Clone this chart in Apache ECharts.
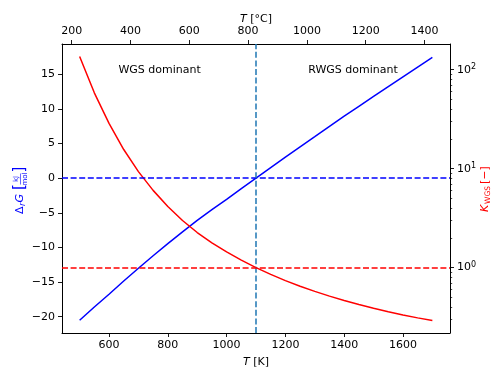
<!DOCTYPE html>
<html>
<head>
<meta charset="utf-8">
<script src="https://cdn.jsdelivr.net/npm/echarts@6/dist/echarts.min.js"></script>
<style>
  html, body { margin: 0; padding: 0; background: #fff; }
  #main { width: 500px; height: 376px; }
</style>
</head>
<body>
<div id="main"></div>
<script>
// temperatures [K] and values
const tempK = [500, 550, 600, 650, 700, 750, 800, 850, 900, 950, 1000, 1050, 1100,
    1150, 1200, 1250, 1300, 1350, 1400, 1450, 1500, 1550, 1600, 1650, 1700];
const deltaG = [-20.5, -18.6, -16.75, -14.85, -13.0, -11.2, -9.45, -7.75, -6.1, -4.55, -3.05, -1.5, 0.0,
    1.52, 3.05, 4.53, 6.0, 7.48, 8.95, 10.38, 11.8, 13.23, 14.65, 16.05, 17.45];
const kWgs = [136, 58.4, 28.7, 15.6, 9.33, 6.03, 4.14, 2.99, 2.26, 1.78, 1.44, 1.19, 1.0,
    0.853, 0.737, 0.647, 0.574, 0.514, 0.464, 0.423, 0.388, 0.358, 0.332, 0.310, 0.291];

// tick labels
const kTicks = [600, 800, 1000, 1200, 1400, 1600];
const cTicks = [200, 400, 600, 800, 1000, 1200, 1400];
const gTicks = [-20, -15, -10, -5, 0, 5, 10, 15];
const logMajor = [1, 10, 100];
const logMinor = [0.3, 0.4, 0.5, 0.6, 0.7, 0.8, 0.9, 2, 3, 4, 5, 6, 7, 8, 9, 20, 30, 40, 50, 60, 70, 80, 90];

// annotations
const regionText = [
    { name: 'WGS dominant', T: 772, y: 15.6 },
    { name: 'RWGS dominant', T: 1430, y: 15.6 }
];
const equilT = 1100;

const font = 'DejaVu Sans';
const axisCol = '#000';

var chart = echarts.init(document.getElementById('main'));

var plain = function (v) { return String(v); };
var option = {
    animation: false,
    textStyle: { fontFamily: font },
    grid: { left: 62, right: 50, top: 44, bottom: 43 },
    xAxis: [
        {
            type: 'value',
            position: 'bottom',
            min: 440, max: 1760,
            name: '{i|T} [K]',
            nameLocation: 'middle',
            nameGap: 24,
            nameMoveOverlap: false,
            nameTextStyle: { fontSize: 11, color: '#000', fontFamily: font,
                rich: { i: { fontStyle: 'italic', fontSize: 11, fontFamily: font } } },
            axisLine: { show: true, onZero: false, lineStyle: { color: axisCol, width: 1 } },
            axisTick: { show: true, length: 4, customValues: kTicks, lineStyle: { color: axisCol, width: 0.9 } },
            axisLabel: { customValues: kTicks, margin: 7, fontSize: 11, color: '#000', fontFamily: font, formatter: plain },
            splitLine: { show: false }
        },
        {
            type: 'value',
            position: 'top',
            min: 440 - 273.15, max: 1760 - 273.15,
            name: '{i|T} [°C]',
            nameLocation: 'middle',
            nameGap: 19,
            nameMoveOverlap: false,
            nameTextStyle: { fontSize: 11, color: '#000', fontFamily: font,
                rich: { i: { fontStyle: 'italic', fontSize: 11, fontFamily: font } } },
            axisLine: { show: true, onZero: false, lineStyle: { color: axisCol, width: 1 } },
            axisTick: { show: true, length: 4, customValues: cTicks, lineStyle: { color: axisCol, width: 0.9 } },
            axisLabel: { customValues: cTicks, margin: 7, fontSize: 11, color: '#000', fontFamily: font, formatter: plain },
            splitLine: { show: false }
        }
    ],
    yAxis: [
        {
            type: 'value',
            position: 'left',
            min: -22.35, max: 19.38,
            axisLine: { show: true, onZero: false, lineStyle: { color: axisCol, width: 1 } },
            axisTick: { show: true, length: 4, customValues: gTicks, lineStyle: { color: axisCol, width: 0.9 } },
            axisLabel: {
                customValues: gTicks, margin: 7, fontSize: 11, color: '#000', fontFamily: font,
                formatter: function (v) { return v < 0 ? '\u2212' + (-v) : String(v); }
            },
            splitLine: { show: false }
        },
        {
            type: 'log',
            position: 'right',
            min: 0.218, max: 182,
            axisLine: { show: true, onZero: false, lineStyle: { color: axisCol, width: 1 } },
            axisTick: { show: true, length: 4, customValues: logMajor, lineStyle: { color: axisCol, width: 0.9 } },
            axisLabel: {
                customValues: logMajor, margin: 7, fontSize: 11, color: '#000', fontFamily: font,
                formatter: function (v) {
                    var e = Math.round(Math.log10(v));
                    return '{a|10}{e|' + e + '}';
                },
                rich: {
                    a: { fontSize: 11, fontFamily: font, color: '#000' },
                    e: { fontSize: 8, fontFamily: font, color: '#000', padding: [0, 0, 6, 0] }
                }
            },
            splitLine: { show: false }
        },
        {
            // minor ticks of the log axis
            type: 'log',
            position: 'right',
            min: 0.218, max: 182,
            axisLine: { show: false },
            axisTick: { show: true, length: 2.2, customValues: logMinor, lineStyle: { color: axisCol, width: 0.7 } },
            axisLabel: { show: false },
            splitLine: { show: false }
        }
    ],
    series: [
        {
            name: 'dG',
            type: 'line',
            xAxisIndex: 0,
            yAxisIndex: 0,
            data: tempK.map(function (t, i) { return [t, deltaG[i]]; }),
            showSymbol: false,
            smooth: false,
            lineStyle: { color: '#0000ff', width: 1.5 },
            itemStyle: { color: '#0000ff' },
            markLine: {
                silent: true,
                symbol: 'none',
                label: { show: false },
                lineStyle: { color: '#0000ff', width: 1.5, type: [6, 2.6] },
                data: [
                    { yAxis: 0 },
                    { xAxis: equilT, lineStyle: { color: '#1f77b4', width: 1.5, type: [6, 2.6] } }
                ]
            },
            markPoint: {
                symbol: 'circle',
                symbolSize: 0,
                silent: true,
                label: { show: true, position: 'inside', formatter: '{b}', color: '#000', fontSize: 11, fontFamily: font },
                data: regionText.map(function (r) { return { name: r.name, coord: [r.T, r.y] }; })
            }
        },
        {
            name: 'K',
            type: 'line',
            xAxisIndex: 0,
            yAxisIndex: 1,
            data: tempK.map(function (t, i) { return [t, kWgs[i]]; }),
            showSymbol: false,
            smooth: false,
            lineStyle: { color: '#ff0000', width: 1.5 },
            itemStyle: { color: '#ff0000' },
            markLine: {
                silent: true,
                symbol: 'none',
                label: { show: false },
                lineStyle: { color: '#ff0000', width: 1.5, type: [6, 2.6] },
                data: [{ yAxis: 1 }]
            }
        }
    ],
    graphic: [
        {
            // left axis name: Δ_r G [kJ/mol]
            type: 'group',
            x: 20, y: 190,
            rotation: Math.PI / 2,
            children: [
                { type: 'text', x: -24, y: 0, style: { text: 'Δ', font: '11px "DejaVu Sans"', fill: '#0000ff', verticalAlign: 'middle' } },
                { type: 'text', x: -16, y: 3, style: { text: 'r', font: 'italic 8px "DejaVu Sans"', fill: '#0000ff', verticalAlign: 'middle' } },
                { type: 'text', x: -12.5, y: 0, style: { text: 'G', font: 'italic 11px "DejaVu Sans"', fill: '#0000ff', verticalAlign: 'middle' } },
                { type: 'text', x: 0, y: 0, style: { text: '[', font: '15px "DejaVu Sans"', fill: '#0000ff', verticalAlign: 'middle' } },
                { type: 'text', x: 11, y: -4, style: { text: 'kJ', font: '7px "DejaVu Sans"', fill: '#0000ff', align: 'center', verticalAlign: 'middle' } },
                { type: 'line', shape: { x1: 5.5, y1: 0.5, x2: 16.5, y2: 0.5 }, style: { stroke: '#0000ff', lineWidth: 0.6 } },
                { type: 'text', x: 11, y: 5, style: { text: 'mol', font: '7px "DejaVu Sans"', fill: '#0000ff', align: 'center', verticalAlign: 'middle' } },
                { type: 'text', x: 17.5, y: 0, style: { text: ']', font: '15px "DejaVu Sans"', fill: '#0000ff', verticalAlign: 'middle' } }
            ]
        },
        {
            // right axis name: K_WGS [−]
            type: 'group',
            x: 485, y: 190,
            rotation: Math.PI / 2,
            children: [
                { type: 'text', x: -22, y: 0, style: { text: 'K', font: 'italic 11px "DejaVu Sans"', fill: '#ff0000', verticalAlign: 'middle' } },
                { type: 'text', x: -14, y: 3, style: { text: 'WGS', font: '7.5px "DejaVu Sans"', fill: '#ff0000', verticalAlign: 'middle' } },
                { type: 'text', x: 6, y: 0, style: { text: '[\u2212]', font: '11px "DejaVu Sans"', fill: '#ff0000', verticalAlign: 'middle' } }
            ]
        }
    ]
};
chart.setOption(option);
</script>
</body>
</html>
